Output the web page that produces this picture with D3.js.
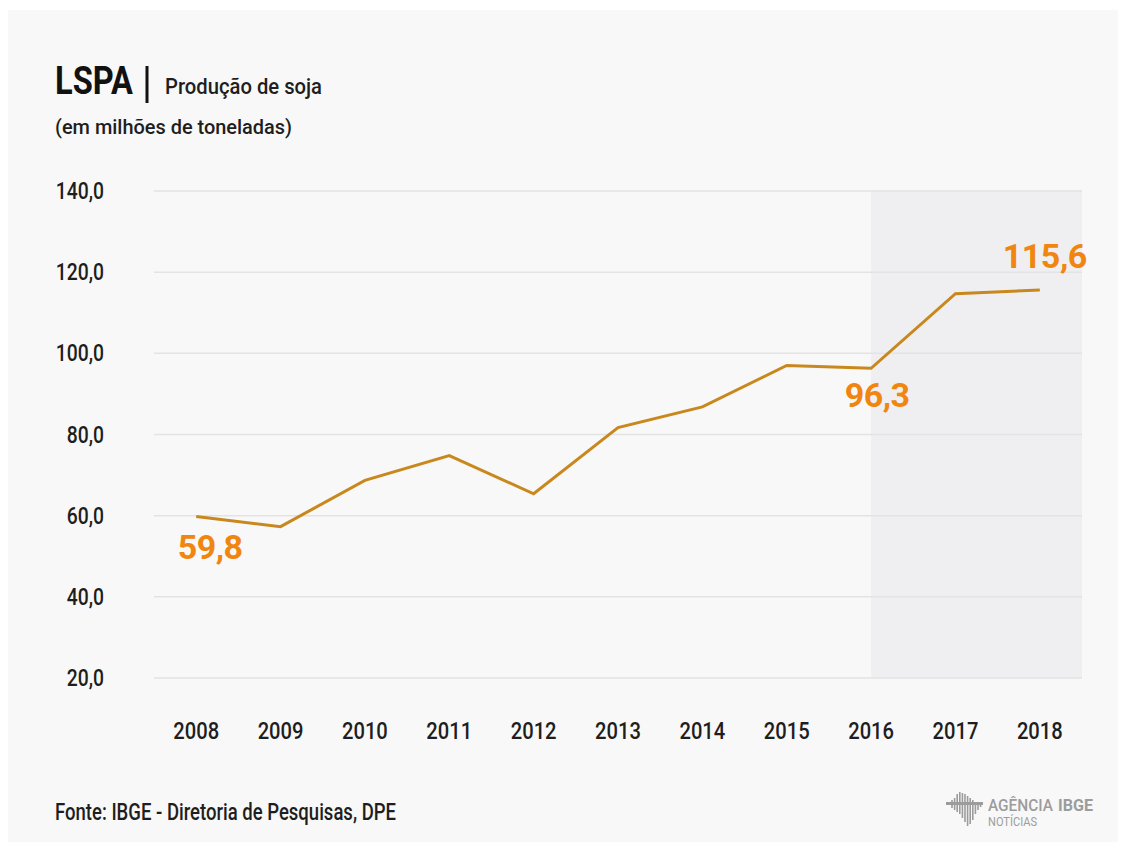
<!DOCTYPE html>
<html>
<head>
<meta charset="utf-8">
<script src="https://cdn.jsdelivr.net/npm/d3@7"></script>
<style>
  html, body { margin: 0; padding: 0; background: #ffffff; }
  svg text { font-family: Roboto, "Noto Sans", sans-serif; }
</style>
</head>
<body>
<div id="chart"></div>
<script>
// dados: LSPA - produção de soja (milhões de toneladas)
const years = ['2008', '2009', '2010', '2011', '2012', '2013', '2014', '2015', '2016', '2017', '2018']
const values = [59.8, 57.3, 68.7, 74.8, 65.4, 81.7, 86.8, 97.0, 96.3, 114.7, 115.6]
const yTicks = [20, 40, 60, 80, 100, 120, 140]
const highlightYears = ['2008', '2016', '2018']
const shadeFrom = '2016'

const width = 1127, height = 852
const plot = { left: 154, right: 1082, top: 191, bottom: 678 }
const lineColor = '#c8881e'
const labelColor = '#f0860f'
const fmt = v => d3.format('.1f')(v).replace('.', ',')

const svg = d3.select('#chart')
  .append('svg')
  .attr('width', width)
  .attr('height', height)

// aperta o texto para imitar a fonte condensada
function condense(sel, k) {
  sel.each(function () {
    const w = this.getComputedTextLength()
    d3.select(this).attr('textLength', w * k).attr('lengthAdjust', 'spacingAndGlyphs')
  })
  return sel
}
function fitWidth(sel, w) {
  return sel.attr('textLength', w).attr('lengthAdjust', 'spacingAndGlyphs')
}

// fundo do cartão
svg.append('rect')
  .attr('x', 8).attr('y', 10)
  .attr('width', 1110).attr('height', 832)
  .attr('fill', '#f8f8f8')

const x = d3.scalePoint()
  .domain(years)
  .range([plot.left, plot.right])
  .padding(0.5)

const y = d3.scaleLinear()
  .domain([20, 140])
  .range([plot.bottom, plot.top])

// área sombreada (projeção)
svg.append('rect')
  .attr('x', x(shadeFrom))
  .attr('y', plot.top)
  .attr('width', plot.right - x(shadeFrom))
  .attr('height', plot.bottom - plot.top)
  .attr('fill', '#efeff2')

// grade
svg.append('g')
  .selectAll('line')
  .data(yTicks)
  .join('line')
  .attr('x1', plot.left)
  .attr('x2', plot.right)
  .attr('y1', d => y(d))
  .attr('y2', d => y(d))
  .attr('stroke', '#e3e3e3')
  .attr('stroke-width', 1.5)

// eixo y
condense(svg.append('g')
  .selectAll('text')
  .data(yTicks)
  .join('text')
  .attr('x', 104)
  .attr('y', d => y(d) + 8)
  .attr('text-anchor', 'end')
  .attr('font-size', 23)
  .attr('font-weight', 500)
  .attr('fill', '#1e1e1e')
  .text(d => fmt(d)), 0.84)

// eixo x
condense(svg.append('g')
  .selectAll('text')
  .data(years)
  .join('text')
  .attr('x', d => x(d))
  .attr('y', 739)
  .attr('text-anchor', 'middle')
  .attr('font-size', 24)
  .attr('font-weight', 500)
  .attr('fill', '#1e1e1e')
  .text(d => d), 0.84)

// linha
const line = d3.line()
  .x((d, i) => x(years[i]))
  .y(d => y(d))

svg.append('path')
  .datum(values)
  .attr('d', line)
  .attr('fill', 'none')
  .attr('stroke', lineColor)
  .attr('stroke-width', 3)
  .attr('stroke-linejoin', 'miter')

// rótulos de valor
const labelOffset = { '2008': [14, 43], '2016': [6, 39], '2018': [5, -22] }
svg.append('g')
  .selectAll('text')
  .data(highlightYears)
  .join('text')
  .attr('x', d => x(d) + labelOffset[d][0])
  .attr('y', d => y(values[years.indexOf(d)]) + labelOffset[d][1])
  .attr('text-anchor', 'middle')
  .attr('font-size', 34)
  .attr('font-weight', 700)
  .attr('letter-spacing', -0.5)
  .attr('fill', labelColor)
  .text(d => fmt(values[years.indexOf(d)]))

// título
const title = svg.append('g')
fitWidth(title.append('text')
  .attr('x', 55).attr('y', 94)
  .attr('font-size', 38)
  .attr('font-weight', 700)
  .attr('fill', '#111')
  .text('LSPA'), 78)
title.append('rect')
  .attr('x', 145.5).attr('y', 66)
  .attr('width', 3).attr('height', 37)
  .attr('fill', '#111')
fitWidth(title.append('text')
  .attr('x', 165).attr('y', 94)
  .attr('font-size', 22)
  .attr('font-weight', 500)
  .attr('fill', '#1e1e1e')
  .text('Produção de soja'), 157)
fitWidth(title.append('text')
  .attr('x', 55).attr('y', 134)
  .attr('font-size', 21)
  .attr('font-weight', 500)
  .attr('fill', '#1e1e1e')
  .text('(em milhões de toneladas)'), 237)

// fonte
fitWidth(svg.append('text')
  .attr('x', 55).attr('y', 820)
  .attr('font-size', 23)
  .attr('font-weight', 500)
  .attr('fill', '#1e1e1e')
  .text('Fonte: IBGE - Diretoria de Pesquisas, DPE'), 341)

// logo Agência IBGE
const logo = svg.append('g').attr('fill', '#9c9c9c').attr('stroke', '#9c9c9c')
const logoBars = [[-6, 2], [-8, 4], [-12, 6], [-14, 8], [-13, 12], [-12, 16], [-10, 20], [-8, 18], [-6, 14], [-4, 8], [-3, 4], [-2, 1]]
logo.selectAll('line')
  .data(logoBars)
  .join('line')
  .attr('x1', (d, i) => 952 + i * 2.6)
  .attr('x2', (d, i) => 952 + i * 2.6)
  .attr('y1', d => 806 + d[0])
  .attr('y2', d => 806 + d[1])
  .attr('stroke-width', 1.6)
logo.append('rect')
  .attr('x', 946).attr('y', 802).attr('width', 37).attr('height', 3)
  .attr('stroke', 'none')
fitWidth(logo.append('text')
  .attr('x', 988).attr('y', 811)
  .attr('font-size', 17)
  .attr('font-weight', 500)
  .attr('stroke', 'none')
  .text('AGÊNCIA'), 65)
fitWidth(logo.append('text')
  .attr('x', 1058).attr('y', 811)
  .attr('font-size', 17)
  .attr('font-weight', 700)
  .attr('stroke', 'none')
  .text('IBGE'), 35)
fitWidth(logo.append('text')
  .attr('x', 988).attr('y', 826)
  .attr('font-size', 12)
  .attr('stroke', 'none')
  .text('NOTÍCIAS'), 49)
</script>
</body>
</html>
